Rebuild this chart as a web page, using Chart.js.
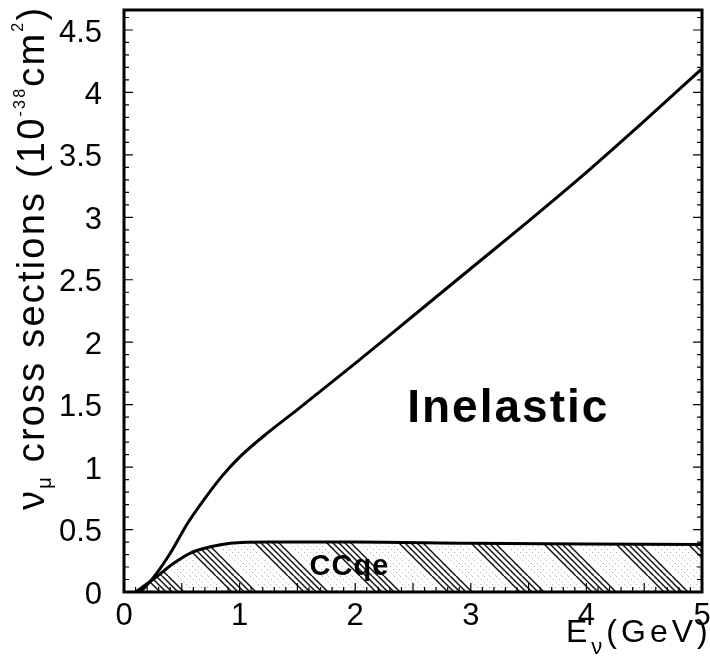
<!DOCTYPE html>
<html>
<head>
<meta charset="utf-8">
<script src="https://cdn.jsdelivr.net/npm/chart.js@4/dist/chart.umd.min.js"></script>
<style>
  body { margin: 0; background: #fff; }
</style>
</head>
<body>
<canvas id="chart" width="710" height="664"></canvas>
<script>
// values
const inelasticE  = [0.14, 0.25, 0.40, 0.55, 0.70, 0.85, 1.00, 1.25, 1.50, 2.00, 2.50, 3.00, 3.50, 4.00, 4.50, 5.00];
const inelasticXs = [0.00, 0.11, 0.31, 0.55, 0.75, 0.93, 1.08, 1.28, 1.46, 1.83, 2.21, 2.59, 2.97, 3.36, 3.77, 4.19];

const ccqeE  = [0.10, 0.25, 0.43, 0.57, 0.74, 0.92, 1.25, 2.00, 3.00, 4.00, 5.00];
const ccqeXs = [0.00, 0.10, 0.23, 0.31, 0.36, 0.39, 0.40, 0.40, 0.39, 0.385, 0.38];

const xTickValues = [0, 1, 2, 3, 4, 5];
const xTickLabels = ['0', '1', '2', '3', '4', '5'];
const yTickValues = [0, 0.5, 1, 1.5, 2, 2.5, 3, 3.5, 4, 4.5];
const yTickLabels = ['0', '0.5', '1', '1.5', '2', '2.5', '3', '3.5', '4', '4.5'];

// text labels inside the plot (data coords)
const labelTexts = ['Inelastic', 'CCqe'];
const labelX = [2.45, 1.95];
const labelY = [1.36, 0.14];

const canvas = document.getElementById('chart');
const ctx = canvas.getContext('2d');

function toPoints(xs, ys) {
    return xs.map((x, i) => ({ x: x, y: ys[i] }));
}

// hatch pattern for the CCqe area
function makeHatch() {
    const P = 72;
    const c = document.createElement('canvas');
    c.width = P; c.height = P;
    const g = c.getContext('2d');
    g.fillStyle = '#fff';
    g.fillRect(0, 0, P, P);
    function diag(off, w, col, dash) {
        g.strokeStyle = col;
        g.lineWidth = w;
        g.setLineDash(dash);
        [-P, 0, P].forEach(k => {
            g.beginPath();
            g.moveTo(off + k, 0);
            g.lineTo(off + k + P, P);
            g.stroke();
        });
    }
    [0, 6, 12, 18, 24].forEach(o => diag(o, 1.5, '#111', []));
    [34, 40, 46, 52, 58, 64].forEach(o => diag(o, 1, '#888', [1, 3]));
    return ctx.createPattern(c, 'repeat');
}

// draws text made of pieces with sub/superscripts
function drawRich(g, parts, spacing) {
    let u = 0;
    parts.forEach(p => {
        g.font = p.font;
        g.letterSpacing = spacing + 'px';
        g.fillText(p.t, u, p.dy || 0);
        u += g.measureText(p.t).width;
    });
}

const framePlugin = {
    id: 'frame',
    beforeDraw(chart) {
        const g = chart.ctx;
        g.save();
        g.fillStyle = '#fff';
        g.fillRect(0, 0, chart.width, chart.height);
        g.restore();
    },
    afterDraw(chart) {
        const g = chart.ctx;
        const a = chart.chartArea;
        const xs = chart.scales.x, ys = chart.scales.y;
        g.save();
        g.strokeStyle = '#000';
        g.fillStyle = '#000';

        // inner ticks
        g.lineWidth = 1.2;
        for (let i = 0; i <= 46; i++) {
            const py = ys.getPixelForValue(i / 10);
            const len = i % 5 === 0 ? 9 : 5;
            g.beginPath();
            g.moveTo(a.left, py); g.lineTo(a.left + len, py);
            g.moveTo(a.right, py); g.lineTo(a.right - len, py);
            g.stroke();
        }
        for (let i = 0; i <= 50; i++) {
            const px = xs.getPixelForValue(i / 10);
            const len = i % 5 === 0 ? 9 : 5;
            g.beginPath();
            g.moveTo(px, a.bottom); g.lineTo(px, a.bottom - len);
            g.stroke();
        }

        // frame
        g.lineWidth = 3;
        g.strokeRect(a.left, a.top, a.right - a.left, a.bottom - a.top);

        // labels in the plot
        g.textBaseline = 'alphabetic';
        g.textAlign = 'left';
        g.font = 'bold 46px "Liberation Sans", Arial, sans-serif';
        g.letterSpacing = '2px';
        g.fillText(labelTexts[0], xs.getPixelForValue(labelX[0]), ys.getPixelForValue(labelY[0]));
        g.font = 'bold 29px "Liberation Sans", Arial, sans-serif';
        g.letterSpacing = '1px';
        g.textAlign = 'center';
        g.fillText(labelTexts[1], xs.getPixelForValue(labelX[1]), ys.getPixelForValue(labelY[1]));

        // y title
        g.textAlign = 'left';
        g.save();
        g.translate(44, 510);
        g.rotate(-Math.PI / 2);
        const big = '38px "Liberation Sans", Arial, sans-serif';
        drawRich(g, [
            { t: 'ν', font: big },
            { t: 'μ', font: '20px "Liberation Sans", Arial, sans-serif', dy: 7 },
            { t: ' cross sections (10', font: big },
            { t: '-38', font: '16px "Liberation Sans", Arial, sans-serif', dy: -19 },
            { t: 'cm', font: big },
            { t: '2', font: '16px "Liberation Sans", Arial, sans-serif', dy: -21 },
            { t: ')', font: big }
        ], 2.2);
        g.restore();

        // x title
        g.save();
        g.translate(566, 642);
        drawRich(g, [
            { t: 'E', font: '32px "Liberation Sans", Arial, sans-serif' },
            { t: 'ν', font: '22px "Liberation Sans", Arial, sans-serif', dy: 12 },
            { t: '(GeV)', font: '32px "Liberation Sans", Arial, sans-serif' }
        ], 4);
        g.restore();

        g.restore();
    }
};

const chart = new Chart(ctx, {
    type: 'line',
    data: {
        datasets: [
            {
                label: 'Inelastic',
                data: toPoints(inelasticE, inelasticXs),
                borderColor: '#000',
                borderWidth: 3,
                pointRadius: 0,
                cubicInterpolationMode: 'monotone',
                fill: false
            },
            {
                label: 'CCqe',
                data: toPoints(ccqeE, ccqeXs),
                borderColor: '#000',
                borderWidth: 3,
                pointRadius: 0,
                cubicInterpolationMode: 'monotone',
                backgroundColor: makeHatch(),
                fill: 'origin'
            }
        ]
    },
    options: {
        responsive: false,
        animation: false,
        devicePixelRatio: 1,
        layout: { padding: { top: 10, right: 8, left: 0, bottom: 0 } },
        plugins: {
            legend: { display: false },
            tooltip: { enabled: false }
        },
        scales: {
            x: {
                type: 'linear',
                min: 0,
                max: 5,
                border: { display: false },
                grid: { display: false, drawTicks: false },
                afterBuildTicks: s => { s.ticks = xTickValues.map(v => ({ value: v })); },
                afterFit: s => { s.height = 72; s.paddingLeft = 0; s.paddingRight = 0; },
                ticks: {
                    autoSkip: false,
                    maxRotation: 0,
                    padding: 6,
                    color: '#000',
                    font: { family: '"Liberation Sans", Arial, sans-serif', size: 31 },
                    callback: (v) => xTickLabels[xTickValues.indexOf(v)]
                }
            },
            y: {
                type: 'linear',
                min: 0,
                max: 4.66,
                border: { display: false },
                grid: { display: false, drawTicks: false },
                afterBuildTicks: s => { s.ticks = yTickValues.map(v => ({ value: v })); },
                afterFit: s => { s.width = 124; s.paddingTop = 0; s.paddingBottom = 0; },
                ticks: {
                    autoSkip: false,
                    padding: 22,
                    color: '#000',
                    labelOffset: 3,
                    font: { family: '"Liberation Sans", Arial, sans-serif', size: 31 },
                    callback: (v) => yTickLabels[yTickValues.indexOf(v)]
                }
            }
        }
    },
    plugins: [framePlugin]
});
</script>
</body>
</html>
